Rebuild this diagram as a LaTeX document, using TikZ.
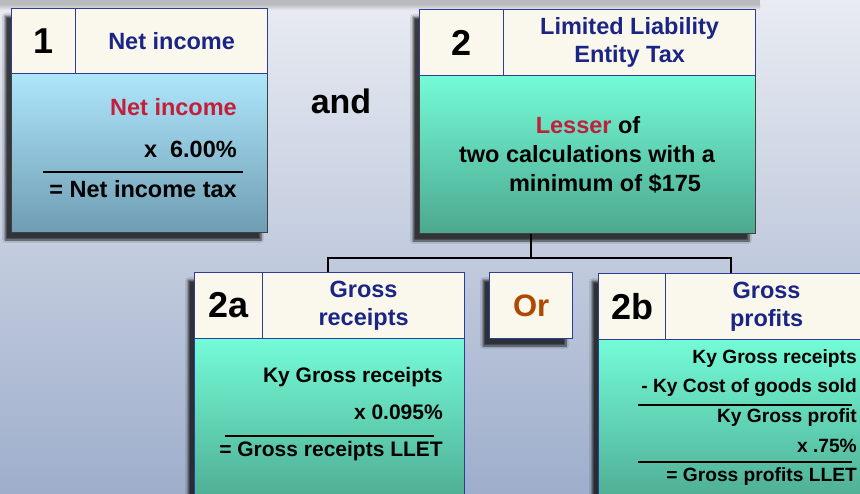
\documentclass[tikz,border=0pt]{standalone}
\usepackage{fontspec}
\setmainfont{Liberation Sans}
\usetikzlibrary{shadows.blur,calc}
\definecolor{cream}{HTML}{FAF7EC}
\definecolor{navy}{HTML}{1B2585}
\definecolor{hdrline}{HTML}{2E3C9A}
\definecolor{redtxt}{HTML}{C41E3A}
\definecolor{ortxt}{HTML}{B04800}
\definecolor{blueTop}{HTML}{AEE6FB}
\definecolor{blueBot}{HTML}{6F9DB3}
\definecolor{tealTop}{HTML}{74FBD7}
\definecolor{tealBot}{HTML}{4CA88F}
\definecolor{bgTop}{HTML}{E8EBF2}
\definecolor{bgBot}{HTML}{9EAECB}
\begin{document}
\begin{tikzpicture}[x=1pt,y=-1pt,
  cell/.style={draw=hdrline, line width=1.2pt, fill=cream, anchor=north west, inner sep=0pt, minimum height=66pt},
  numtxt/.style={font=\bfseries\fontsize{36}{38}\selectfont, text=black},
  ttltxt/.style={font=\bfseries\fontsize{23.5}{28.5}\selectfont, text=navy, align=center},
  bodyblue/.style={draw=black!75, line width=1.2pt, anchor=north west, inner sep=0pt, top color=blueTop, bottom color=blueBot},
  bodyteal/.style={draw=black!75, line width=1.2pt, anchor=north west, inner sep=0pt, top color=tealTop, bottom color=tealBot},
  txt/.style={font=\bfseries\fontsize{23.5}{28}\selectfont, inner sep=0pt, anchor=base east},
  txta/.style={font=\bfseries\fontsize{21}{25}\selectfont, inner sep=0pt, anchor=base east},
  txtb/.style={font=\bfseries\fontsize{19.2}{23}\selectfont, inner sep=0pt, anchor=base east},
  rule/.style={line width=1.8pt, black},
  conn/.style={line width=1.8pt, black},
  shad/.style={fill=cream, blur shadow={shadow xshift=-6pt, shadow yshift=-8pt, shadow blur steps=8, shadow opacity=75}}
]
\useasboundingbox (0,0) rectangle (860,493);
% background
\shade[top color=bgTop, bottom color=bgBot] (0,0) rectangle (860,493);
\fill[black!45, opacity=0.5] (0,0) rectangle (760,4);
\shade[top color=black!40, bottom color=bgTop, opacity=0.6] (0,4) rectangle (760,10);

% shadows
\path[shad] (11,8) rectangle (267,232);
\path[shad] (419,9) rectangle (755,233);
\path[shad] (194,272) rectangle (464,510);
\path[shad] (489,272) rectangle (572,338);
\path[shad] (598,273) rectangle (867,510);

% Box 1
\node[bodyblue, minimum width=256pt, minimum height=159pt] (b1) at (11,73) {};
\node[cell, minimum width=64pt, minimum height=65pt, numtxt] (n1) at (11,8) {1};
\node[cell, minimum width=192pt, minimum height=65pt, ttltxt] (t1) at (75,8) {Net income};
\node[txt, text=redtxt] (b1a) at (237,115) {Net income};
\node[txt] (b1b) at (237,157) {x\ \ 6.00\%};
\draw[rule] (43,172) -- (243,172);
\node[txt] (b1c) at (237,197) {= Net income tax};

% and
\node[font=\bfseries\fontsize{34}{36}\selectfont, inner sep=0pt, anchor=base] (and) at (341,113) {and};

% Box 2
\node[bodyteal, minimum width=336pt, minimum height=158pt] (b2) at (419,75) {};
\node[cell, minimum width=84pt, numtxt] (n2) at (419,9) {2};
\node[cell, minimum width=252pt, ttltxt] (t2) at (503,9) {Limited Liability\\Entity Tax};
\node[txt, anchor=base] (b2a) at (588,133) {\textcolor{redtxt}{Lesser} of};
\node[txt, anchor=base] (b2b) at (587,162) {two calculations with a};
\node[txt, anchor=base] (b2c) at (605,191) {minimum of \$175};

% Box 2a
\node[bodyteal, draw=hdrline, minimum width=270pt, minimum height=172pt] (b2x) at (194,338) {};
\node[cell, minimum width=68pt, numtxt] (n2x) at (194,272) {2a};
\node[cell, minimum width=202pt, ttltxt] (t2x) at (262,272) {Gross\\receipts};
\node[txta] (ax1) at (443,382) {Ky Gross receipts};
\node[txta] (ax2) at (443,419) {x 0.095\%};
\draw[rule] (225,436) -- (434,436);
\node[txta] (ax3) at (443,456) {= Gross receipts LLET};

% Or
\node[cell, minimum width=83pt, font=\bfseries\fontsize{31}{34}\selectfont, text=ortxt] (or) at (489,272) {Or};

% Box 2b
\node[bodyteal, draw=hdrline, minimum width=269pt, minimum height=171pt] (b2y) at (598,339) {};
\node[cell, minimum width=67pt, numtxt] (n2y) at (598,273) {2b};
\node[cell, minimum width=202pt, ttltxt] (t2y) at (665,273) {Gross\\profits};
\node[txtb] (by1) at (857,363) {Ky Gross receipts};
\node[txtb] (by2) at (857,392) {- Ky Cost of goods sold};
\draw[rule] (638,405) -- (852,405);
\node[txtb] (by3) at (857,422) {Ky Gross profit};
\node[txtb] (by4) at (857,452) {x .75\%};
\draw[rule] (638,462) -- (852,462);
\node[txtb] (by5) at (857,481) {= Gross profits LLET};

% connectors
\coordinate (j) at (531,258);
\coordinate (dl) at (328,258);
\coordinate (dr) at (731,258);
\draw[conn] (b2.south -| j) -- (j);
\draw[conn] (t2x.north -| dl) -- (dl) -- (dr) -- (t2y.north -| dr);
\end{tikzpicture}
\end{document}
